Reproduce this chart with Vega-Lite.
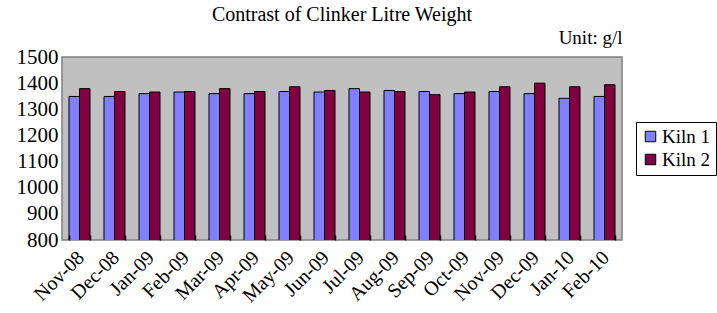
{
  "$schema": "https://vega.github.io/schema/vega-lite/v6.json",
  "width": 560,
  "height": 183,
  "autosize": {"type": "none"},
  "padding": {"left": 62, "top": 57, "right": 95, "bottom": 73},
  "background": "white",
  "title": {"text": "Contrast of Clinker Litre Weight", "font": "Times New Roman", "fontSize": 20, "fontWeight": "normal", "color": "black", "anchor": "middle", "offset": 3},
  "config": {
    "view": {"fill": "#C0C0C0", "stroke": "#808080", "strokeWidth": 1.5},
    "axis": {"labelFont": "Times New Roman", "titleFont": "Times New Roman", "labelColor": "black", "titleColor": "black", "grid": false}
  },
  "data": {"values": [
    {"month": "Nov-08", "kiln": "Kiln 1", "w": 1349}, {"month": "Nov-08", "kiln": "Kiln 2", "w": 1379},
    {"month": "Dec-08", "kiln": "Kiln 1", "w": 1349}, {"month": "Dec-08", "kiln": "Kiln 2", "w": 1368},
    {"month": "Jan-09", "kiln": "Kiln 1", "w": 1360}, {"month": "Jan-09", "kiln": "Kiln 2", "w": 1366},
    {"month": "Feb-09", "kiln": "Kiln 1", "w": 1366}, {"month": "Feb-09", "kiln": "Kiln 2", "w": 1368},
    {"month": "Mar-09", "kiln": "Kiln 1", "w": 1360}, {"month": "Mar-09", "kiln": "Kiln 2", "w": 1379},
    {"month": "Apr-09", "kiln": "Kiln 1", "w": 1360}, {"month": "Apr-09", "kiln": "Kiln 2", "w": 1368},
    {"month": "May-09", "kiln": "Kiln 1", "w": 1368}, {"month": "May-09", "kiln": "Kiln 2", "w": 1386},
    {"month": "Jun-09", "kiln": "Kiln 1", "w": 1366}, {"month": "Jun-09", "kiln": "Kiln 2", "w": 1372},
    {"month": "Jul-09", "kiln": "Kiln 1", "w": 1379}, {"month": "Jul-09", "kiln": "Kiln 2", "w": 1366},
    {"month": "Aug-09", "kiln": "Kiln 1", "w": 1372}, {"month": "Aug-09", "kiln": "Kiln 2", "w": 1368},
    {"month": "Sep-09", "kiln": "Kiln 1", "w": 1368}, {"month": "Sep-09", "kiln": "Kiln 2", "w": 1356},
    {"month": "Oct-09", "kiln": "Kiln 1", "w": 1360}, {"month": "Oct-09", "kiln": "Kiln 2", "w": 1366},
    {"month": "Nov-09", "kiln": "Kiln 1", "w": 1368}, {"month": "Nov-09", "kiln": "Kiln 2", "w": 1386},
    {"month": "Dec-09", "kiln": "Kiln 1", "w": 1360}, {"month": "Dec-09", "kiln": "Kiln 2", "w": 1400},
    {"month": "Jan-10", "kiln": "Kiln 1", "w": 1342}, {"month": "Jan-10", "kiln": "Kiln 2", "w": 1386},
    {"month": "Feb-10", "kiln": "Kiln 1", "w": 1349}, {"month": "Feb-10", "kiln": "Kiln 2", "w": 1394}
  ]},
  "mark": {"type": "bar", "stroke": "black", "strokeWidth": 1, "clip": true},
  "encoding": {
    "x": {"field": "month", "type": "nominal", "sort": null,
      "scale": {"paddingInner": 0.4, "paddingOuter": 0.2},
      "axis": {"title": null, "labelAngle": -45, "labelAlign": "right", "labelBaseline": "top", "labelFontSize": 20, "labelPadding": 7, "labelOffset": -6,
        "tickBand": "extent", "tickSize": 5, "offset": -5, "tickColor": "black", "tickWidth": 1.5, "domain": false, "zindex": 1}},
    "xOffset": {"field": "kiln", "type": "nominal", "scale": {"paddingInner": 0}},
    "y": {"field": "w", "type": "quantitative",
      "scale": {"domain": [800, 1500], "zero": false, "nice": false},
      "axis": {"values": [800, 900, 1000, 1100, 1200, 1300, 1400, 1500], "format": "d", "labelFontSize": 21, "labelPadding": 4, "ticks": false, "domain": false,
        "title": "Unit: g/l", "titleAngle": 0, "titleX": 560, "titleY": -10, "titleAlign": "right", "titleBaseline": "bottom", "titleFontSize": 19, "titleFontWeight": "normal"}},
    "color": {"field": "kiln", "type": "nominal",
      "scale": {"domain": ["Kiln 1", "Kiln 2"], "range": ["#8080FF", "#800040"]},
      "legend": {"title": null, "orient": "none", "legendX": 574, "legendY": 65, "symbolType": "square", "symbolSize": 110, "symbolStrokeColor": "black", "symbolStrokeWidth": 1,
        "labelFont": "Times New Roman", "labelFontSize": 19, "labelColor": "black", "labelOffset": 2, "strokeColor": "black", "padding": 5, "rowPadding": 3, "fillColor": "white"}}
  }
}
